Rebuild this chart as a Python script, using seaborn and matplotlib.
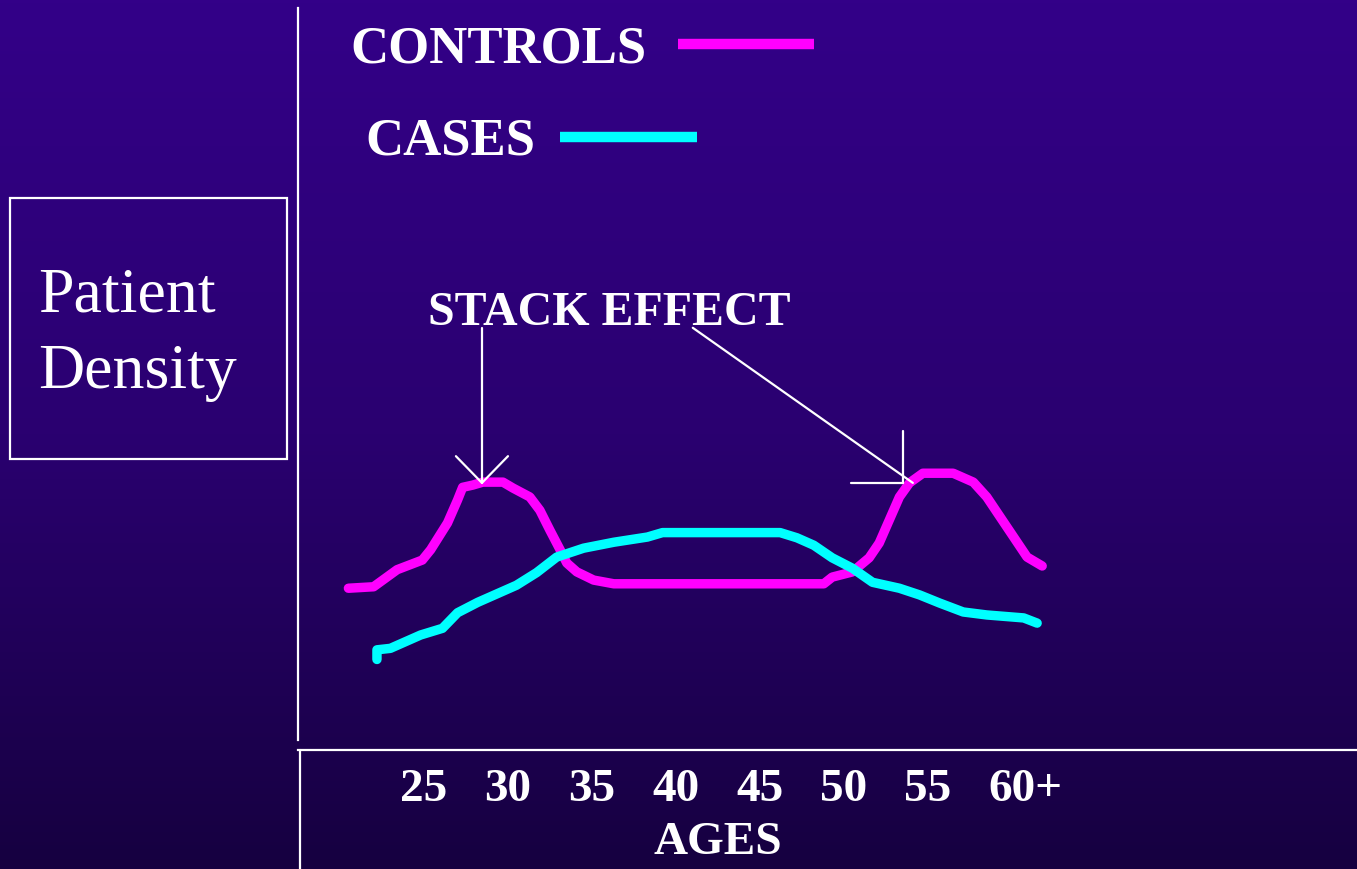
import numpy as np
import pandas as pd
import matplotlib
matplotlib.use("Agg")
import matplotlib.pyplot as plt
import seaborn as sns
from matplotlib.colors import LinearSegmentedColormap
from matplotlib.lines import Line2D
from matplotlib.patches import Rectangle
from matplotlib.transforms import ScaledTranslation

sns.set_theme(style="white")
plt.rcParams["font.family"] = ["Liberation Serif", "DejaVu Serif"]

# Patient density by age for the two groups
control_age = [20.5, 22.0, 23.4, 24.9, 25.4, 26.4, 27.0, 27.3, 27.9, 28.5,
               29.7, 30.3, 31.3, 31.9, 32.5, 33.1, 33.5, 34.1, 35.1, 36.3,
               48.8, 49.3, 50.5, 51.5, 52.1, 52.7, 53.3, 53.9, 54.7, 56.5,
               57.7, 58.5, 59.3, 60.1, 60.9, 61.8]
control_density = [2.18, 2.20, 2.43, 2.56, 2.70, 3.06, 3.37, 3.54, 3.57, 3.61,
                   3.61, 3.53, 3.41, 3.23, 2.96, 2.70, 2.52, 2.40, 2.29, 2.24,
                   2.24, 2.33, 2.40, 2.59, 2.79, 3.10, 3.41, 3.60, 3.73, 3.73,
                   3.61, 3.41, 3.14, 2.87, 2.60, 2.48]

case_age = [22.2, 22.2, 23.0, 24.8, 26.1, 27.0, 28.2, 29.5, 30.5, 31.7,
            32.9, 34.5, 36.3, 38.3, 39.2, 46.2, 47.2, 48.2, 49.3, 50.5,
            51.7, 53.3, 54.5, 55.7, 57.1, 58.5, 60.7, 61.5]
case_density = [1.22, 1.35, 1.37, 1.55, 1.64, 1.85, 1.99, 2.12, 2.22, 2.39,
                2.60, 2.72, 2.80, 2.87, 2.93, 2.93, 2.86, 2.76, 2.59, 2.45,
                2.26, 2.18, 2.09, 1.98, 1.86, 1.82, 1.78, 1.71]

age_ticks = [25, 30, 35, 40, 45, 50, 55, 60]
age_labels = ["25", "30", "35", "40", "45", "50", "55", "60+"]

group_names = ["CONTROLS", "CASES"]
group_colors = {"CONTROLS": "#ff00ff", "CASES": "#00ffff"}

df = pd.concat([
    pd.DataFrame({"age": control_age, "density": control_density, "group": "CONTROLS"}),
    pd.DataFrame({"age": case_age, "density": case_density, "group": "CASES"}),
], ignore_index=True)

W, H = 1357, 869
fig = plt.figure(figsize=(W / 100, H / 100), dpi=100)

# vertical purple gradient background
bg = fig.add_axes([0, 0, 1, 1], zorder=-5)
grad = np.linspace(0, 1, 256).reshape(-1, 1)
cmap = LinearSegmentedColormap.from_list("slide", ["#330088", "#2a0070", "#160040"])
bg.imshow(grad, aspect="auto", cmap=cmap, extent=[0, 1, 0, 1], origin="upper")
bg.set_axis_off()

ax = fig.add_axes([298 / W, (H - 750) / H, (W - 298) / W, (750 - 8) / H])
ax.patch.set_alpha(0)
ax.set_xlim(17.5, 80.54)
ax.set_ylim(0, 10)

sns.lineplot(data=df, x="age", y="density", hue="group", hue_order=group_names,
             palette=group_colors, estimator=None, sort=False, lw=6.8,
             solid_capstyle="round", solid_joinstyle="round", legend=False, ax=ax)

# axes frame
for side in ["top", "right"]:
    ax.spines[side].set_visible(False)
ax.spines["left"].set_color("white")
ax.spines["left"].set_linewidth(1.6)
ax.spines["left"].set_bounds(0.14, 10)
ax.spines["bottom"].set_color("white")
ax.spines["bottom"].set_linewidth(1.6)
fig.add_artist(Line2D([300 / W, 300 / W], [0, (H - 750) / H], color="white", lw=1.6))

ax.set_yticks([])
ax.set_ylabel("")
ax.set_xticks(age_ticks, age_labels)
ax.tick_params(axis="x", length=0, pad=14, labelsize=34, labelcolor="white")
xlabels = ax.get_xticklabels()
for lbl in xlabels:
    lbl.set_fontweight("bold")
# let the open-ended "60+" label extend to the right of its tick
xlabels[-1].set_transform(xlabels[-1].get_transform()
                          + ScaledTranslation(0.13, 0, fig.dpi_scale_trans))
ax.set_xlabel("AGES", fontsize=34, fontweight="bold", color="white")
ax.xaxis.set_label_coords(0.396, -0.097)

# key: label text followed by a line sample
ax.text(20.6, 9.26, "CONTROLS", fontsize=38, fontweight="bold", color="white", va="baseline")
ax.plot([40.1, 48.2], [9.51, 9.51], color=group_colors["CONTROLS"], lw=7.5, solid_capstyle="butt")
ax.text(21.5, 8.02, "CASES", fontsize=38, fontweight="bold", color="white", va="baseline")
ax.plot([33.1, 41.25], [8.26, 8.26], color=group_colors["CASES"], lw=7.5, solid_capstyle="butt")

# stack effect callout
ax.text(25.24, 5.73, "STACK EFFECT", fontsize=34.5, fontweight="bold", color="white", va="baseline")
ln = dict(color="white", lw=1.6)
ax.plot([28.45, 28.45], [5.69, 3.60], **ln)
ax.plot([26.9, 28.45, 30.0], [3.96, 3.60, 3.96], **ln)
ax.plot([41.0, 54.1], [5.69, 3.60], **ln)
ax.plot([53.5, 53.5], [4.30, 3.60], **ln)
ax.plot([50.4, 53.5], [3.60, 3.60], **ln)

# y-axis title box
fig.add_artist(Rectangle((10 / W, (H - 459) / H), 277 / W, 261 / H,
                         transform=fig.transFigure, fill=False, ec="white", lw=1.6))
fig.text(38 / W, (H - 312) / H, "Patient", fontsize=46, color="white", va="baseline")
fig.text(38 / W, (H - 388) / H, "Density", fontsize=46, color="white", va="baseline")

fig.savefig("out.png", dpi=100)
